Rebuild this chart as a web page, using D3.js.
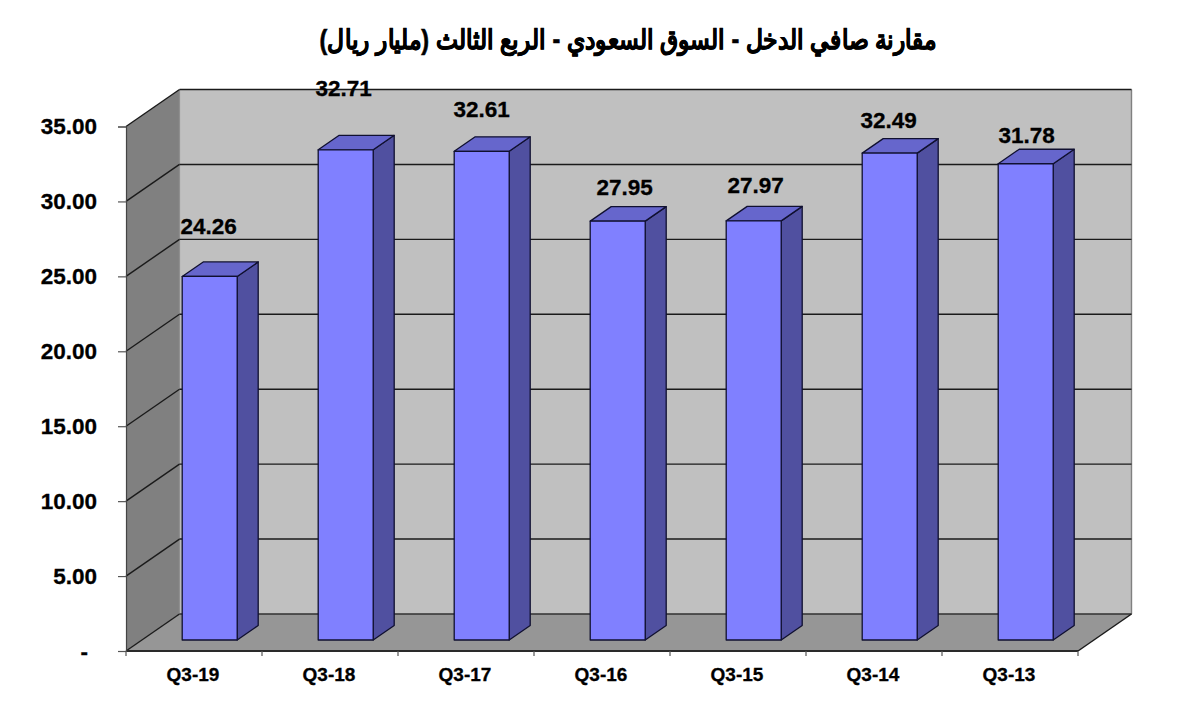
<!DOCTYPE html>
<html><head><meta charset="utf-8">
<script src="https://cdnjs.cloudflare.com/ajax/libs/d3/7.8.5/d3.min.js"></script>
<style>html,body{margin:0;background:#fff}svg{display:block}text{font-family:"Liberation Sans",Arial,sans-serif;font-weight:bold;fill:#000;stroke:#000;stroke-width:.3px}</style>
</head><body><svg id="c" width="1200" height="717"></svg>
<script>
const categories=["Q3-19","Q3-18","Q3-17","Q3-16","Q3-15","Q3-14","Q3-13"];
const values=[24.26,32.71,32.61,27.95,27.97,32.49,31.78];
const yTicks=[0,5,10,15,20,25,30,35];
const titleText="مقارنة صافي الدخل - السوق السعودي - الربع الثالث (مليار ريال)";
// hand-placed label offsets in the original chart (px from the bar's front top edge)
const labelDx=[-1,-2,0,7,2,-1,1];
const labelDy=[-48,-60,-40,-32,-34,-31,-27];

const plotL=126,plotR=1078,plotB=651,plotT=126.5;
const depth={x:53.5,y:-37};
const x=d3.scaleBand().domain(categories).range([plotL,plotR]).paddingInner(0).paddingOuter(0);
const y=d3.scaleLinear().domain([0,35]).range([plotB,plotT]);
const svg=d3.select("#c");
const line=d3.line();
const dark="#1a1a1a";
const poly=(pts,fill,stroke,sw)=>svg.append("path").attr("d",line(pts)+"Z").attr("fill",fill).attr("stroke",stroke||"none").attr("stroke-width",sw||0).attr("stroke-linejoin","round");

// walls and floor
const bl=[plotL,plotB],br=[plotR,plotB],tl=[plotL,y(35)];
const sh=p=>[p[0]+depth.x,p[1]+depth.y];
poly([sh(tl),[sh(br)[0],sh(tl)[1]],sh(br),sh(bl)],"#c0c0c0");
poly([tl,sh(tl),sh(bl),bl],"#808080");
poly([bl,br,sh(br),sh(bl)],"#969696");
// wall edges
const seg=(a,b,c,w)=>svg.append("path").attr("d",line([a,b])).attr("stroke",c).attr("stroke-width",w).attr("fill","none");
seg(sh(bl),sh(tl),"#8f8f8f",1.2);
seg([sh(br)[0],sh(tl)[1]],sh(br),"#808080",1.4);
// gridlines
yTicks.forEach(t=>{
  const a=[plotL,y(t)],b=sh(a),c=[sh(br)[0],b[1]];
  seg(a,b,dark,1.4);
  seg(b,c,t===0?"#303030":dark,1.4);
});
seg(bl,br,"#2a2a2a",2);
seg(br,sh(br),dark,1.5);

// axes
const yAxis=d3.axisLeft(y).tickValues(yTicks).tickSize(8).tickPadding(0).tickFormat(()=>"");
const gy=svg.append("g").attr("transform",`translate(${plotL},0)`).call(yAxis);
gy.select(".domain").attr("stroke","#444").attr("stroke-width",1.2);
gy.selectAll(".tick line").attr("stroke","#555").attr("stroke-width",1.2);
svg.append("g").selectAll("line").data(d3.range(categories.length+1)).join("line")
  .attr("x1",i=>plotL+i*x.bandwidth()).attr("x2",i=>plotL+i*x.bandwidth())
  .attr("y1",plotB).attr("y2",plotB+5).attr("stroke","#555").attr("stroke-width",1.2);

// y tick labels
svg.append("g").selectAll("text").data(yTicks).join("text")
  .attr("x",t=>t===0?88:97).attr("y",t=>y(t)+2).attr("dominant-baseline","middle")
  .attr("text-anchor","end").attr("font-size",22.5)
  .text(t=>t===0?"-":t.toFixed(2));
// category labels
svg.append("g").selectAll("text").data(categories).join("text")
  .attr("x",c=>x(c)+x.bandwidth()/2-1).attr("y",680.5).attr("text-anchor","middle").attr("font-size",19)
  .text(c=>c);

// bars (centred in the depth of the floor)
const barW=55,bd={x:21,y:-14.5},off={x:15.7,y:-11};
categories.forEach((c,i)=>{
  const xl=x(c)+(x.bandwidth()-barW)/2+off.x,xr=xl+barW;
  const yb=y(0)+off.y,yt=y(values[i])+off.y;
  const s="#101030";
  poly([[xr,yb],[xr,yt],[xr+bd.x,yt+bd.y],[xr+bd.x,yb+bd.y]],"#5050a0",s,1.3);
  poly([[xl,yt],[xr,yt],[xr+bd.x,yt+bd.y],[xl+bd.x,yt+bd.y]],"#6666cc",s,1.3);
  poly([[xl,yb],[xr,yb],[xr,yt],[xl,yt]],"#8080ff",s,1.3);
});
// value labels
svg.append("g").selectAll("text").data(values).join("text")
  .attr("x",(v,i)=>x(categories[i])+x.bandwidth()/2+off.x+labelDx[i])
  .attr("y",(v,i)=>y(v)+off.y+labelDy[i]).attr("dominant-baseline","middle")
  .attr("text-anchor","middle").attr("font-size",22.5).text(v=>v.toFixed(2));
// title
svg.append("text").attr("x",628).attr("y",49).attr("text-anchor","middle").attr("direction","rtl")
  .attr("font-size",27).attr("textLength",617).attr("lengthAdjust","spacingAndGlyphs").style("stroke-width","0.6px").text(titleText);
</script></body></html>
